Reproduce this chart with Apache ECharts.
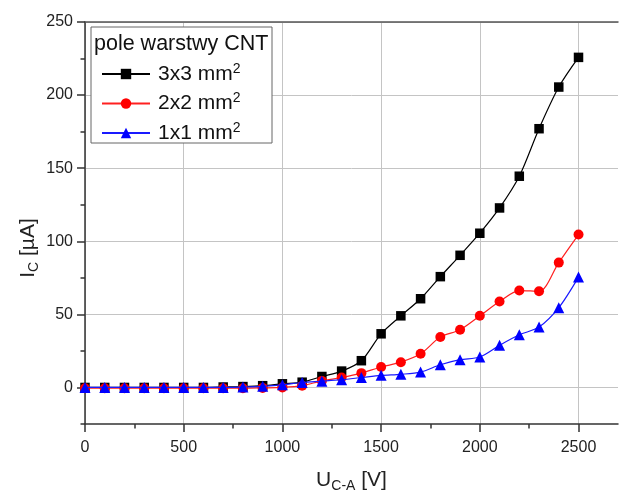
<!DOCTYPE html>
<html>
<head>
<meta charset="utf-8">
<script src="https://cdn.jsdelivr.net/npm/echarts@6/dist/echarts.min.js"></script>
<style>
  html, body { margin: 0; padding: 0; background: #fff; }
  #chart { width: 620px; height: 491px; }
</style>
</head>
<body>
<div id="chart"></div>
<script>
// ---- data ----
const voltages = [0,100,200,300,400,500,600,700,800,900,1000,1100,1200,1300,1400,1500,1600,1700,1800,1900,2000,2100,2200,2300,2400,2500];
const area3x3 = [0,0,0,0,0,0,0,0.3,0.6,1.2,2.5,3.6,7.5,11.2,18.3,36.7,49,60.7,75.8,90.4,105.5,122.8,144.5,177,205.5,225.8];
const area2x2 = [-0.5,-0.5,-0.5,-0.5,-0.5,-0.5,-0.5,-0.5,-0.5,-0.3,0,1.2,4.5,6.8,9.8,14,17.3,23,34.5,39.5,49,58.8,66.3,65.8,85.4,104.6];
const area1x1 = [0,0,0,0,0,0,0,0,0.3,0.8,1.8,3.4,4.3,5.3,6.8,8.3,9,10.5,15.5,19,20.8,28.8,36,41.3,54.6,75.5];
const seriesNames = ['3x3 mm²', '2x2 mm²', '1x1 mm²'];
const legendTitle = 'pole warstwy CNT';
const xMajorTicks = [0,500,1000,1500,2000,2500];
const xMinorTicks = [250,750,1250,1750,2250];
const yMajorTicks = [0,50,100,150,200,250];
const yMinorTicks = [-25,25,75,125,175,225];

const FONT = '"Liberation Sans", Arial, sans-serif';
const pairs = arr => voltages.map((v, i) => [v, arr[i]]);

const chart = echarts.init(document.getElementById('chart'), null, { renderer: 'canvas' });

const axisLineStyle = { color: '#333', width: 1.5 };

const option = {
  animation: false,
  backgroundColor: '#fff',
  grid: { left: 85, top: 22, right: 2, bottom: 67, containLabel: false, outerBoundsMode: 'none' },
  xAxis: [
    {
      type: 'value', min: 0, max: 2700, position: 'bottom',
      axisLine: { show: true, onZero: false, lineStyle: axisLineStyle },
      axisTick: { show: true, customValues: xMajorTicks, length: 8, lineStyle: { color: '#333', width: 1.5 } },
      axisLabel: { customValues: xMajorTicks, margin: 16, fontSize: 16, color: '#222', fontFamily: FONT, formatter: v => String(v) },
      splitLine: { show: true, lineStyle: { color: '#c4c4c4', width: 1 } },
      name: '{a|U}{s|C-A}{a| [V]}',
      nameLocation: 'middle', nameGap: 43,
      nameTextStyle: {
        fontFamily: FONT, color: '#222',
        rich: {
          a: { fontSize: 21, lineHeight: 26, verticalAlign: 'middle', fontFamily: FONT, color: '#222' },
          s: { fontSize: 14, lineHeight: 14, verticalAlign: 'bottom', fontFamily: FONT, color: '#222' }
        }
      }
    },
    {
      type: 'value', min: 0, max: 2700, position: 'bottom',
      axisLine: { show: false, onZero: false },
      axisTick: { show: true, customValues: xMinorTicks, length: 4.5, lineStyle: { color: '#333', width: 1.5 } },
      axisLabel: { show: false },
      splitLine: { show: false }
    },
    {
      type: 'value', min: 0, max: 2700, position: 'top',
      axisLine: { show: true, onZero: false, lineStyle: { color: '#555', width: 1.5 } },
      axisTick: { show: false },
      axisLabel: { show: false },
      splitLine: { show: false }
    }
  ],
  yAxis: [
    {
      type: 'value', min: -25, max: 250, position: 'left',
      axisLine: { show: true, onZero: false, lineStyle: axisLineStyle },
      axisTick: { show: true, customValues: yMajorTicks, length: 8, lineStyle: { color: '#333', width: 1.5 } },
      axisLabel: { customValues: yMajorTicks, margin: 12, fontSize: 16, color: '#222', fontFamily: FONT, formatter: v => String(v) },
      splitLine: { show: true, lineStyle: { color: '#c4c4c4', width: 1 } }
    },
    {
      type: 'value', min: -25, max: 250, position: 'left',
      axisLine: { show: false, onZero: false },
      axisTick: { show: true, customValues: yMinorTicks, length: 4.5, lineStyle: { color: '#333', width: 1.5 } },
      axisLabel: { show: false },
      splitLine: { show: false }
    }
  ],
  legend: {
    show: true,
    orient: 'vertical',
    left: 101, top: 62,
    padding: 0,
    itemWidth: 48, itemHeight: 13, itemGap: 7,
    z: 60,
    data: seriesNames,
    formatter: n => '{t|' + n.replace('²', '') + '}{s|2}',
    textStyle: {
      fontFamily: FONT, color: '#111', padding: [0, 0, 0, 3],
      rich: {
        t: { fontSize: 21, lineHeight: 24, verticalAlign: 'middle', fontFamily: FONT, color: '#111' },
        s: { fontSize: 14, lineHeight: 14, verticalAlign: 'top', fontFamily: FONT, color: '#111' }
      }
    }
  },
  graphic: [
    {
      type: 'rect', z: 50,
      shape: { x: 91, y: 27, width: 181, height: 116 },
      style: { fill: '#fff', stroke: '#666', lineWidth: 1 }
    },
    {
      type: 'text', z: 51,
      x: 94, y: 44,
      style: { text: legendTitle, font: '21.5px ' + FONT, fill: '#111', verticalAlign: 'middle' }
    },
    {
      type: 'text', z: 51,
      x: 28, y: 248, rotation: Math.PI / 2,
      style: {
        text: '{a|I}{s|C}{a| [µA]}',
        align: 'center', verticalAlign: 'middle',
        rich: {
          a: { fontSize: 21, lineHeight: 26, verticalAlign: 'middle', fontFamily: FONT, fill: '#222' },
          s: { fontSize: 14, lineHeight: 14, verticalAlign: 'bottom', fontFamily: FONT, fill: '#222' }
        }
      }
    }
  ],
  series: [
    {
      name: seriesNames[0], type: 'line', data: pairs(area3x3),
      smooth: 0.3, symbol: 'rect', symbolSize: 9.5,
      itemStyle: { color: '#000' }, lineStyle: { color: '#000', width: 1.2 }, z: 3
    },
    {
      name: seriesNames[1], type: 'line', data: pairs(area2x2),
      smooth: 0.3, symbol: 'circle', symbolSize: 10,
      itemStyle: { color: '#ff0000' }, lineStyle: { color: '#ff2020', width: 1.2 }, z: 4
    },
    {
      name: seriesNames[2], type: 'line', data: pairs(area1x1),
      smooth: 0.3, symbol: 'triangle', symbolSize: 11,
      itemStyle: { color: '#0000ff' }, lineStyle: { color: '#1a1aff', width: 1.2 }, z: 5
    }
  ]
};
chart.setOption(option);
</script>
</body>
</html>
